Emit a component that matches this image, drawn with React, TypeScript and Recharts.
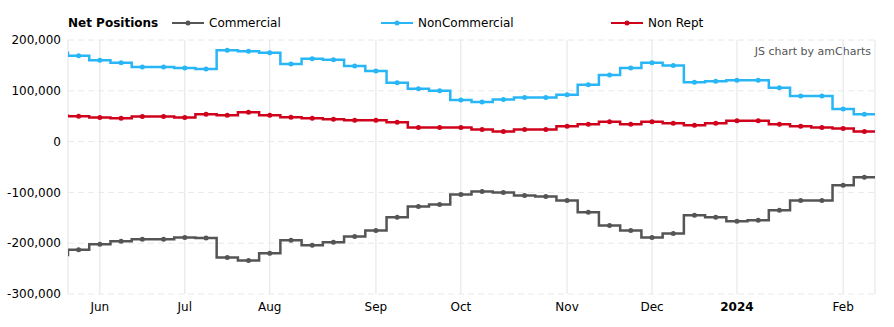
import { LineChart, Line, XAxis, YAxis, CartesianGrid } from 'recharts'

// weekly report dates (Tuesdays), first and last lie just outside the visible window
const weeks = [
  'May 23', 'May 30', 'Jun 6', 'Jun 13', 'Jun 20', 'Jun 27', 'Jul 4', 'Jul 11', 'Jul 18', 'Jul 25',
  'Aug 1', 'Aug 8', 'Aug 15', 'Aug 22', 'Aug 29', 'Sep 5', 'Sep 12', 'Sep 19', 'Sep 26', 'Oct 3',
  'Oct 10', 'Oct 17', 'Oct 24', 'Oct 31', 'Nov 7', 'Nov 14', 'Nov 21', 'Nov 28', 'Dec 5', 'Dec 12',
  'Dec 19', 'Dec 26', 'Jan 2', 'Jan 9', 'Jan 16', 'Jan 23', 'Jan 30', 'Feb 6', 'Feb 13', 'Feb 20'
]

// values in thousands
const commercial = [
  -223, -213, -202, -196, -192, -192, -189, -190, -228, -234,
  -220, -194, -204, -198, -187, -175, -149, -128, -124, -104,
  -98, -100, -106, -108, -116, -139, -165, -175, -189, -181,
  -145, -149, -157, -155, -135, -116, -116, -86, -70, -70
]
const nonCommercial = [
  175, 169, 160, 155, 147, 147, 145, 143, 180, 178,
  175, 153, 163, 161, 149, 139, 116, 104, 100, 82,
  78, 83, 87, 87, 92, 112, 131, 145, 155, 150,
  117, 119, 121, 121, 106, 90, 90, 64, 54, 54
]
const nonRept = [
  51, 50, 47.5, 46, 49.5, 49.5, 47.5, 54, 52, 58,
  52, 48, 46, 44, 42, 42, 38, 28, 28, 28,
  24, 20, 24, 24, 30, 34, 39, 34, 39, 36,
  32, 36, 41, 41, 34, 30, 28, 26, 20, 20
]

const tickWeeks = ['Jun 6', 'Jul 4', 'Aug 1', 'Sep 5', 'Oct 3', 'Nov 7', 'Dec 5', 'Jan 2', 'Feb 6']
const tickLabels = ['Jun', 'Jul', 'Aug', 'Sep', 'Oct', 'Nov', 'Dec', '2024', 'Feb']
const yTicks = [-300000, -200000, -100000, 0, 100000, 200000]

const data = weeks.map((w, i) => ({
  x: i - 1,
  week: w,
  commercial: commercial[i] * 1000,
  nonCommercial: nonCommercial[i] * 1000,
  nonRept: nonRept[i] * 1000
}))
const xTicks = tickWeeks.map(w => weeks.indexOf(w) - 1)

const FONT = '"DejaVu Sans", Verdana, sans-serif'
const COLORS = { commercial: '#555555', nonCommercial: '#29b6f6', nonRept: '#d0021b' }

const XTick = (props: any) => {
  const { x, y, payload } = props
  const label = tickLabels[xTicks.indexOf(payload.value)]
  return (
    <text x={x} y={y} dy="0.71em" textAnchor="middle" fontSize={12} fontFamily={FONT}
      fill="#000" fontWeight={label === '2024' ? 'bold' : 'normal'}>
      {label}
    </text>
  )
}

const LegendItem = ({ left, color, label }: { left: number; color: string; label: string }) => (
  <div style={{ position: 'absolute', left, top: 15, height: 16, display: 'flex', alignItems: 'center' }}>
    <svg width={32} height={8} style={{ marginRight: 5 }}>
      <line x1={0} y1={4} x2={32} y2={4} stroke={color} strokeWidth={2} />
      <circle cx={16} cy={4} r={2.5} fill={color} />
    </svg>
    <span>{label}</span>
  </div>
)

export default function App() {
  const dot = (color: string) => ({ r: 2.5, fill: color, stroke: color, strokeWidth: 0 })
  return (
    <div style={{ position: 'absolute', left: 0, top: 0, width: 894, height: 327, fontFamily: FONT, fontSize: 12, color: '#000' }}>
      <div style={{ position: 'absolute', left: 68, top: 15, height: 16, lineHeight: '16px', fontWeight: 'bold' }}>Net Positions</div>
      <LegendItem left={172} color={COLORS.commercial} label="Commercial" />
      <LegendItem left={381} color={COLORS.nonCommercial} label="NonCommercial" />
      <LegendItem left={611} color={COLORS.nonRept} label="Non Rept" />
      <div style={{ position: 'absolute', right: 23, top: 45, fontSize: 11, color: '#555' }}>JS chart by amCharts</div>
      <LineChart width={894} height={327} data={data} margin={{ top: 40, right: 19, left: 8, bottom: 0 }}>
        <CartesianGrid horizontal={false} stroke="#e3e3e3" />
        <CartesianGrid vertical={false} stroke="#e8e8e8" strokeDasharray="6 4" />
        <XAxis dataKey="x" type="number" domain={[-0.5, 37.5]} allowDataOverflow ticks={xTicks} height={33}
          tick={<XTick />} axisLine={false} tickLine={false} tickSize={0} tickMargin={8} interval={0} />
        <YAxis width={60} domain={[-300000, 200000]} ticks={yTicks} axisLine={false} tickLine={false}
          tickSize={0} tickMargin={7} tickFormatter={(v: number) => v.toLocaleString('en-US')}
          tick={{ fill: '#000', fontSize: 12, fontFamily: FONT }} />
        <Line type="step" dataKey="commercial" stroke={COLORS.commercial} strokeWidth={2.5}
          dot={dot(COLORS.commercial)} activeDot={false} isAnimationActive={false} />
        <Line type="step" dataKey="nonCommercial" stroke={COLORS.nonCommercial} strokeWidth={2.5}
          dot={dot(COLORS.nonCommercial)} activeDot={false} isAnimationActive={false} />
        <Line type="step" dataKey="nonRept" stroke={COLORS.nonRept} strokeWidth={2.5}
          dot={dot(COLORS.nonRept)} activeDot={false} isAnimationActive={false} />
      </LineChart>
    </div>
  )
}
